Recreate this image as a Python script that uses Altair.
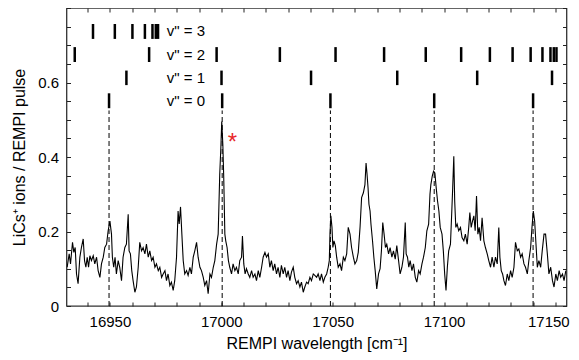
import altair as alt
import pandas as pd

# ---- spectrum (wavenumber in cm^-1, signal in ions / pulse) ----
spec_x = [
    16930.8, 16931.7, 16932.3, 16933.2, 16933.8, 16934.4, 16935.0, 16935.7, 16936.5, 16937.2,
    16938.0, 16938.6, 16939.2, 16939.8, 16940.4, 16941.0, 16941.7, 16942.5, 16943.2, 16944.0,
    16944.7, 16945.5, 16946.2, 16947.0, 16947.7, 16948.5, 16949.2, 16950.0, 16950.7, 16951.1,
    16951.7, 16952.3, 16952.9, 16953.7, 16954.4, 16955.2, 16955.9, 16956.7, 16957.4, 16958.2,
    16958.6, 16959.2, 16959.8, 16960.4, 16961.2, 16961.9, 16962.7, 16963.4, 16964.2, 16964.9,
    16965.7, 16966.4, 16967.2, 16967.9, 16968.7, 16969.4, 16970.2, 16970.9, 16971.7, 16972.4,
    16973.2, 16973.9, 16974.7, 16975.4, 16976.1, 16976.9, 16977.6, 16978.4, 16979.1, 16979.9,
    16980.6, 16981.1, 16981.7, 16982.3, 16982.9, 16983.6, 16984.4, 16985.1, 16985.9, 16986.6,
    16987.4, 16988.1, 16988.9, 16989.6, 16990.4, 16991.1, 16991.9, 16992.6, 16993.4, 16994.1,
    16994.9, 16995.6, 16996.4, 16997.1, 16997.9, 16998.6, 16999.3, 16999.8, 17000.2, 17000.7,
    17001.1, 17001.6, 17002.0, 17002.6, 17003.2, 17003.8, 17004.6, 17005.3, 17006.1, 17006.8,
    17007.6, 17008.3, 17009.1, 17009.5, 17010.1, 17010.7, 17011.3, 17012.1, 17012.8, 17013.6,
    17014.3, 17015.1, 17015.8, 17016.6, 17017.3, 17018.1, 17018.8, 17019.6, 17020.3, 17021.1,
    17021.8, 17022.5, 17023.3, 17024.0, 17024.8, 17025.5, 17026.3, 17027.0, 17027.8, 17028.5,
    17029.3, 17030.0, 17030.8, 17031.5, 17032.3, 17033.0, 17033.8, 17034.5, 17035.3, 17036.0,
    17036.8, 17037.5, 17038.3, 17039.0, 17039.8, 17040.5, 17041.3, 17042.0, 17042.8, 17043.5,
    17044.3, 17045.0, 17045.8, 17046.5, 17047.3, 17048.0, 17048.5, 17048.8, 17049.2, 17049.7,
    17050.1, 17050.6, 17051.2, 17051.8, 17052.5, 17053.3, 17054.0, 17054.8, 17055.5, 17056.3,
    17057.0, 17057.8, 17058.5, 17059.3, 17060.0, 17060.8, 17061.5, 17062.3, 17063.0, 17063.8,
    17064.5, 17065.0, 17065.4, 17065.9, 17066.3, 17066.8, 17067.2, 17067.9, 17068.5, 17069.1,
    17069.8, 17070.6, 17071.3, 17071.9, 17072.5, 17073.1, 17073.7, 17074.3, 17075.1, 17075.8,
    17076.6, 17077.3, 17078.1, 17078.8, 17079.6, 17080.3, 17081.1, 17081.8, 17082.6, 17083.0,
    17083.6, 17084.2, 17084.8, 17085.6, 17086.3, 17087.1, 17087.8, 17088.6, 17089.3, 17090.1,
    17090.8, 17091.6, 17092.3, 17093.1, 17093.7, 17094.1, 17094.7, 17095.3, 17095.9, 17096.5,
    17097.1, 17097.7, 17098.3, 17099.1, 17099.7, 17100.3, 17100.9, 17101.5, 17102.1, 17102.9,
    17103.5, 17103.9, 17104.4, 17104.8, 17105.3, 17105.9, 17106.6, 17107.4, 17108.1, 17108.9,
    17109.6, 17110.4, 17111.1, 17111.6, 17112.2, 17112.8, 17113.4, 17114.0, 17114.6, 17115.2,
    17115.8, 17116.4, 17117.1, 17117.9, 17118.6, 17119.4, 17120.1, 17120.9, 17121.6, 17122.4,
    17123.1, 17123.9, 17124.6, 17125.1, 17125.7, 17126.3, 17126.9, 17127.6, 17128.4, 17129.1,
    17129.9, 17130.6, 17131.4, 17132.1, 17132.9, 17133.6, 17134.4, 17135.1, 17135.9, 17136.6,
    17137.4, 17138.1, 17138.9, 17139.5, 17140.1, 17140.7, 17141.3, 17141.9, 17142.6, 17143.4,
    17144.1, 17144.9, 17145.6, 17146.4, 17147.1, 17147.9, 17148.7, 17149.4, 17150.2, 17150.9,
    17151.7, 17152.4, 17153.2, 17153.9, 17154.7,
]
spec_y = [
    0.104, 0.140, 0.113, 0.171, 0.144, 0.157, 0.086, 0.060, 0.131, 0.157,
    0.180, 0.122, 0.104, 0.131, 0.104, 0.135, 0.122, 0.135, 0.113, 0.131,
    0.095, 0.077, 0.113, 0.131, 0.157, 0.166, 0.202, 0.228, 0.193, 0.131,
    0.104, 0.131, 0.086, 0.122, 0.104, 0.068, 0.131, 0.157, 0.166, 0.246,
    0.148, 0.140, 0.095, 0.068, 0.037, 0.051, 0.104, 0.171, 0.148, 0.157,
    0.140, 0.166, 0.131, 0.148, 0.122, 0.131, 0.104, 0.113, 0.095, 0.104,
    0.077, 0.086, 0.095, 0.068, 0.086, 0.055, 0.064, 0.042, 0.068, 0.131,
    0.255, 0.220, 0.266, 0.193, 0.122, 0.086, 0.095, 0.082, 0.104, 0.086,
    0.131, 0.148, 0.171, 0.131, 0.104, 0.095, 0.077, 0.055, 0.068, 0.033,
    0.086, 0.077, 0.104, 0.122, 0.166, 0.193, 0.353, 0.424, 0.495, 0.433,
    0.344, 0.193, 0.175, 0.157, 0.122, 0.104, 0.086, 0.113, 0.095, 0.104,
    0.086, 0.122, 0.131, 0.188, 0.113, 0.086, 0.100, 0.086, 0.077, 0.095,
    0.077, 0.086, 0.068, 0.095, 0.077, 0.104, 0.131, 0.144, 0.131, 0.140,
    0.104, 0.122, 0.095, 0.113, 0.086, 0.104, 0.077, 0.109, 0.086, 0.104,
    0.077, 0.095, 0.068, 0.091, 0.104, 0.077, 0.060, 0.068, 0.051, 0.064,
    0.037, 0.051, 0.064, 0.060, 0.077, 0.068, 0.086, 0.082, 0.077, 0.086,
    0.068, 0.086, 0.064, 0.077, 0.086, 0.104, 0.122, 0.193, 0.242, 0.211,
    0.157, 0.175, 0.162, 0.131, 0.104, 0.113, 0.095, 0.131, 0.122, 0.140,
    0.211, 0.193, 0.157, 0.131, 0.113, 0.122, 0.144, 0.211, 0.291, 0.304,
    0.326, 0.384, 0.357, 0.317, 0.273, 0.255, 0.220, 0.175, 0.131, 0.095,
    0.046, 0.086, 0.100, 0.148, 0.224, 0.193, 0.157, 0.166, 0.140, 0.157,
    0.131, 0.148, 0.126, 0.162, 0.122, 0.086, 0.104, 0.131, 0.224, 0.140,
    0.131, 0.104, 0.122, 0.095, 0.113, 0.077, 0.064, 0.095, 0.086, 0.113,
    0.131, 0.157, 0.202, 0.220, 0.300, 0.326, 0.348, 0.362, 0.357, 0.317,
    0.282, 0.255, 0.211, 0.193, 0.148, 0.086, 0.042, 0.104, 0.148, 0.166,
    0.255, 0.317, 0.402, 0.282, 0.211, 0.220, 0.202, 0.211, 0.184, 0.175,
    0.193, 0.166, 0.211, 0.251, 0.211, 0.228, 0.242, 0.202, 0.295, 0.193,
    0.211, 0.175, 0.237, 0.175, 0.157, 0.140, 0.122, 0.104, 0.131, 0.104,
    0.131, 0.113, 0.211, 0.131, 0.095, 0.086, 0.068, 0.055, 0.086, 0.068,
    0.095, 0.077, 0.104, 0.171, 0.148, 0.153, 0.131, 0.140, 0.113, 0.104,
    0.086, 0.122, 0.157, 0.211, 0.255, 0.228, 0.166, 0.104, 0.122, 0.104,
    0.148, 0.193, 0.193, 0.140, 0.086, 0.104, 0.068, 0.051, 0.086, 0.068,
    0.095, 0.077, 0.086, 0.068, 0.095,
]

# ---- vibrational progressions (line positions, cm^-1) ----
v3_pos = [16942.4, 16952.2, 16960.1, 16965.7, 16969.1, 16970.6, 16971.6]
v2_pos = [16934.2, 16967.6, 16997.9, 17026.3, 17051.3, 17073.1, 17091.8, 17107.7,
          17120.6, 17130.8, 17138.9, 17144.2, 17147.8, 17149.3, 17150.5]
v1_pos = [16957.4, 17000.1, 17040.3, 17079.0, 17114.9, 17148.5]
v0_pos = [16949.6, 17000.4, 17049.0, 17095.6, 17140.0]
row_names = ['v" = 3', 'v" = 2', 'v" = 1', 'v" = 0']
row_lo = [0.717, 0.655, 0.593, 0.531]
row_hi = [0.757, 0.695, 0.632, 0.571]
row_mid = [0.737, 0.675, 0.6125, 0.551]
label_x = 16975.5
dash_top = 0.525
star_x = [17005.0]
star_y = [0.451]

x_ticks = list(range(16940, 17151, 10))
y_ticks = [round(i * 0.05, 2) for i in range(0, 17)]

spec = pd.DataFrame({"x": spec_x, "y": spec_y})
rows = []
for pos, lo, hi in zip([v3_pos, v2_pos, v1_pos, v0_pos], row_lo, row_hi):
    for p in pos:
        rows.append({"x": p, "y": lo, "y2": hi})
ticks_df = pd.DataFrame(rows)
dash_df = pd.DataFrame({"x": v0_pos, "y": [0.0] * len(v0_pos), "y2": [dash_top] * len(v0_pos)})
lab_df = pd.DataFrame({"x": [label_x] * 4, "y": row_mid, "t": row_names})
star_df = pd.DataFrame({"x": star_x, "y": star_y, "t": ["*"]})

FONT = "Liberation Sans"
xs = alt.Scale(domain=[16930.5, 17155], nice=False, zero=False)
ys = alt.Scale(domain=[0, 0.8], nice=False, zero=False)

x_bottom = alt.Axis(values=x_ticks, format="d", labelExpr="datum.value % 50 === 0 ? datum.label : ''",
                    grid=False, domain=False, offset=-4, tickSize=4, tickColor="#222",
                    labelPadding=8, labelFontSize=15, labelFont=FONT, labelColor="black",
                    labelOffset={"condition": {"test": "datum.value === 17150", "value": -7}, "value": 0},
                    titleFont=FONT, titleFontSize=16, titleFontWeight="normal", titleColor="black",
                    titlePadding=6, labelFlush=False, labelOverlap=False)
y_left = alt.Axis(values=y_ticks, format=".1~f",
                  labelExpr="(round(datum.value*100) % 20 === 0 && datum.value < 0.7) ? datum.label : ''",
                  grid=False, domain=False, offset=-4, tickSize=4, tickColor="#222",
                  labelPadding=8, labelFontSize=15, labelFont=FONT, labelColor="black",
                  titleFont=FONT, titleFontSize=16, titleFontWeight="normal", titleColor="black",
                  titlePadding=10, labelOverlap=False, labelFlush=False)
x_top = alt.Axis(orient="top", values=x_ticks, labels=False, title=None, grid=False, domain=False,
                 offset=-4, tickSize=4, tickColor="#222")
y_right = alt.Axis(orient="right", values=y_ticks, labels=False, title=None, grid=False, domain=False,
                   offset=-4, tickSize=4, tickColor="#222")

line = alt.Chart(spec).mark_line(color="black", strokeWidth=1.1, clip=True).encode(
    x=alt.X("x:Q", scale=xs, axis=x_bottom, title="REMPI wavelength [cm⁻¹]"),
    y=alt.Y("y:Q", scale=ys, axis=y_left, title="LiCs⁺ ions / REMPI pulse"),
)
dashes = alt.Chart(dash_df).mark_rule(color="black", strokeWidth=1, strokeDash=[5, 3]).encode(
    x=alt.X("x:Q", scale=xs, axis=x_top),
    y=alt.Y("y:Q", scale=ys, axis=y_right),
    y2="y2:Q",
)
bars = alt.Chart(ticks_df).mark_rule(color="black", strokeWidth=2.5).encode(
    x=alt.X("x:Q", scale=xs, axis=None),
    y=alt.Y("y:Q", scale=ys, axis=None),
    y2="y2:Q",
)
labels = alt.Chart(lab_df).mark_text(align="left", baseline="middle", fontSize=15, font=FONT,
                                     color="black").encode(
    x=alt.X("x:Q", scale=xs, axis=None),
    y=alt.Y("y:Q", scale=ys, axis=None),
    text="t:N",
)
star = alt.Chart(star_df).mark_text(align="center", baseline="middle", fontSize=24, font=FONT,
                                    color="#e8282b", dy=5).encode(
    x=alt.X("x:Q", scale=xs, axis=None),
    y=alt.Y("y:Q", scale=ys, axis=None),
    text="t:N",
)

chart = alt.layer(line, dashes, bars, labels, star).resolve_axis(
    x="independent", y="independent"
).properties(
    width=500, height=298,
    autosize=alt.AutoSizeParams(type="none"),
    padding={"left": 58.5, "top": 0, "right": 4, "bottom": 46},
).configure_view(stroke="#333", strokeWidth=1.3)

chart.save("out.html", embed_options={"renderer": "svg", "actions": False})
